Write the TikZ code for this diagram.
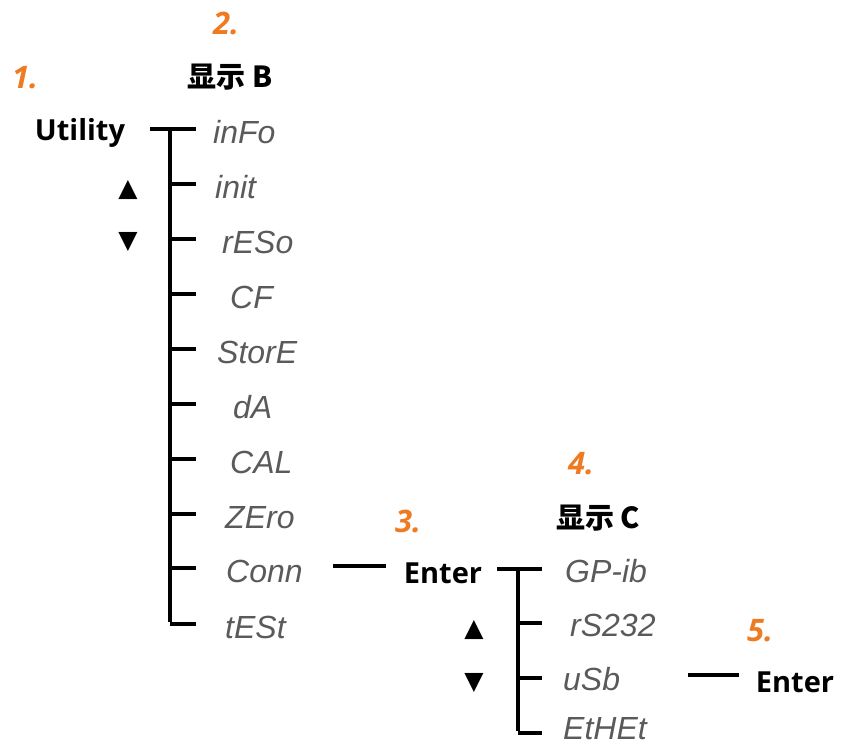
\documentclass[tikz,border=0pt]{standalone}
\usepackage{fontspec}
\setmainfont{Open Sans}
\newfontfamily\cjk{Noto Sans CJK SC}
\newfontfamily\segfont{Liberation Sans}
\newfontfamily\symfont{DejaVu Sans}
\definecolor{numorange}{HTML}{EE7B22}
\definecolor{seggray}{HTML}{5A5A5A}
\begin{document}
\begin{tikzpicture}[x=1pt,y=-1pt,
 num/.style={font=\fontsize{31}{34}\selectfont\bfseries\itshape, text=numorange, inner sep=0},
 key/.style={font=\fontsize{29}{32}\selectfont\bfseries, inner sep=0},
 head/.style={font=\cjk\fontsize{29}{32}\selectfont\bfseries, inner sep=0},
 seg/.style={font=\segfont\fontsize{32}{36}\selectfont\itshape, text=seggray, inner sep=0, anchor=base west},
 sym/.style={font=\symfont\fontsize{25}{28}\selectfont, inner sep=0},
 tree/.style={line width=3.2pt}
]
\useasboundingbox (0,0) rectangle (843,747);

% step numbers
\node[num] (n1) at (25,78) {1.};
\node[num] (n2) at (226,23) {2.};
\node[num] (n3) at (408,521) {3.};
\node[num] (n4) at (581,464) {4.};
\node[num] (n5) at (760,631) {5.};

% headings
\node[head] (hB) at (230,77) {显示 B};
\node[head] (hC) at (598,518) {显示 C};

% keys
\node[key] (util) at (80,133) {Utility};
\node[key] (enter1) at (443,573) {Enter};
\node[key] (enter2) at (795,682) {Enter};

% arrows
\node[sym] (up1) at (128,190) {▲};
\node[sym] (dn1) at (128,242) {▼};
\node[sym] (up2) at (474,630) {▲};
\node[sym] (dn2) at (474,683) {▼};

% tree 1
\foreach \i/\y in {1/129,2/184,3/239,4/294,5/349,6/404,7/459,8/514,9/568,10/624}{
  \coordinate (a\i) at (170,\y);
  \coordinate (b\i) at (196,\y);
  \draw[tree] (a\i) -- (b\i);
}
\coordinate (u0) at (150,129);
\draw[tree] (u0) -- (a1);
\draw[tree] (a1) -- ([yshift=1.6pt]a10);

\node[seg] (m1) at (213,143) {inFo};
\node[seg] (m2) at (215,198) {init};
\node[seg] (m3) at (222,253) {rESo};
\node[seg] (m4) at (230,308) {CF};
\node[seg] (m5) at (217,363) {StorE};
\node[seg] (m6) at (233,418) {dA};
\node[seg] (m7) at (230,473) {CAL};
\node[seg] (m8) at (225,528) {ZEro};
\node[seg] (m9) at (226,582) {Conn};
\node[seg] (m10) at (225,638) {tESt};

\coordinate (c1) at (333,566);
\coordinate (c2) at (386,566);
\draw[tree] (c1) -- (c2);

% tree 2
\foreach \i/\y in {1/569,2/623,3/678,4/733}{
  \coordinate (p\i) at (518,\y);
  \coordinate (q\i) at (542,\y);
  \draw[tree] (p\i) -- (q\i);
}
\coordinate (v0) at (497,569);
\draw[tree] (v0) -- (p1);
\draw[tree] (p1) -- ([yshift=1.6pt]p4);

\node[seg] (s1) at (565,582) {GP-ib};
\node[seg] (s2) at (570,636) {rS232};
\node[seg] (s3) at (563,690) {uSb};
\node[seg] (s4) at (563,739) {EtHEt};

\coordinate (d1) at (688,675);
\coordinate (d2) at (739,675);
\draw[tree] (d1) -- (d2);
\end{tikzpicture}
\end{document}
